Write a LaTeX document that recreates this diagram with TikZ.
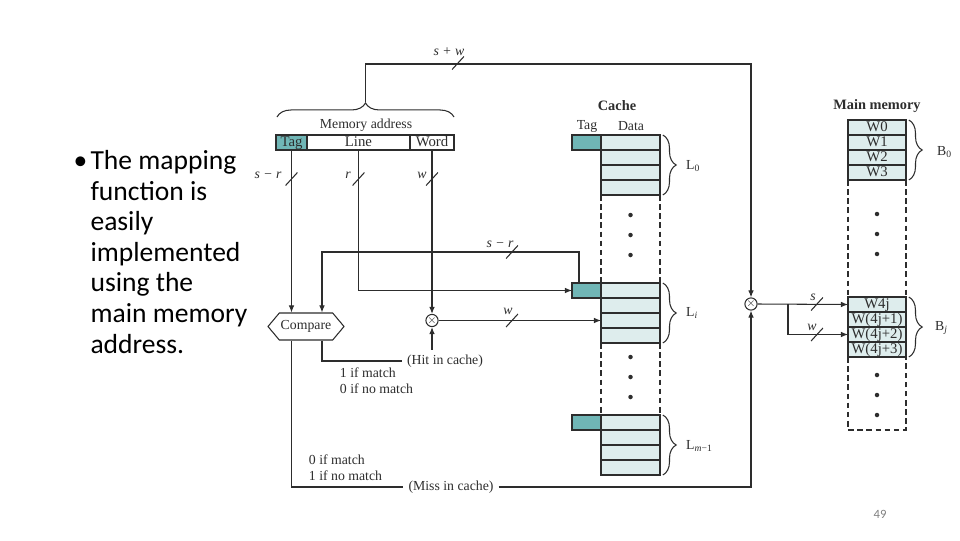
\documentclass[tikz,border=0pt]{standalone}
\usepackage{fontspec}
\setmainfont{Liberation Serif}
\newfontfamily\slidefont{Carlito}
\usetikzlibrary{arrows.meta,shapes.symbols,decorations.pathreplacing}

\definecolor{tagteal}{RGB}{112,182,182}
\definecolor{cellblue}{RGB}{222,237,237}
\definecolor{ink}{RGB}{45,45,45}

\tikzset{slash/.pic={\draw (-4.2pt,-4.6pt) -- (4.2pt,4.6pt);}}

\begin{document}
\begin{tikzpicture}[x=0.025cm, y=-0.025cm, color=ink, line width=0.75pt,
  >={Latex[length=5pt,width=4pt]},
  every node/.style={font=\fontsize{9.8}{11.4}\selectfont},
  cell/.style={draw, fill=cellblue, minimum width=1.475cm, minimum height=0.375cm, inner sep=0pt, outer sep=0pt,
    text height=7pt, text depth=2pt, font=\fontsize{10.5}{12}\selectfont},
  tagcell/.style={cell, fill=tagteal, minimum width=0.725cm},
  mcell/.style={cell, minimum width=1.45cm},
  lbl/.style={font=\itshape\fontsize{9.8}{11}\selectfont},
  brc/.style={decorate, decoration={brace, amplitude=#1}},
  brc/.default=9.5pt,
  mult/.style={draw, circle, fill=white, minimum size=0.3cm, inner sep=0pt, font=\fontsize{8}{8}\selectfont},
  dashline/.style={dash pattern=on 4pt off 2.5pt}]
\useasboundingbox (0,0) rectangle (960,540);

% slide text
\node[anchor=base west, align=left, inner sep=0pt, font=\slidefont\fontsize{19.6}{21.75}\selectfont, text=black] (bullet) at (73,353)
  {\makebox[0.425cm][l]{\textbullet}The mapping\\ \hspace*{0.425cm}function is\\ \hspace*{0.425cm}easily\\
   \hspace*{0.425cm}implemented\\ \hspace*{0.425cm}using the\\ \hspace*{0.425cm}main memory\\ \hspace*{0.425cm}address.};
\node[font=\slidefont\fontsize{9}{10}\selectfont, text=gray] (pnum) at (880,514) {49};

% memory address fields
\node[tagcell, minimum width=0.775cm, font=\fontsize{10.5}{12}\selectfont] (atag) at (291.5,142.5) {Tag};
\node[cell, fill=white, minimum width=2.575cm] (aline) at (358.5,142.5) {Line};
\node[cell, fill=white, minimum width=1.1cm] (aword) at (432,142.5) {Word};
\node (maddr) at (366,125) {Memory address};
\draw[brc=10pt] (277,117) -- (454,117);
\coordinate (btip) at (365.5,102);
\coordinate (bend) at (365.5,64);

% cache
\node[font=\bfseries\fontsize{10.2}{12}\selectfont] (chead) at (617,106) {Cache};
\node (ctag) at (587,126) {Tag};
\node (cdata) at (631,126) {Data};
\foreach \k/\y in {a/135,b/283,c/415}{
  \node[tagcell] (t\k) at (586.5,{\y+7.5}) {};
  \foreach \r in {0,...,3}
    \node[cell] (c\k\r) at (630.5,{\y+7.5+15*\r}) {};
}
\draw[line width=1.4pt] (cc1.south west) -- (cc1.south east);
\draw[dashline] (ca3.south west) -- (cb0.north west) (ca3.south east) -- (cb0.north east);
\draw[dashline] (cb3.south west) -- (cc0.north west) (cb3.south east) -- (cc0.north east);
\foreach \y in {215,235,255,357,377,397} \fill (630.5,\y) circle (1.6pt);
\draw[brc] ([xshift=2pt]ca0.north east) -- ([xshift=2pt]ca3.south east);
\draw[brc] ([xshift=2pt]cb0.north east) -- ([xshift=2pt]cb3.south east);
\draw[brc] ([xshift=2pt]cc0.north east) -- ([xshift=2pt]cc3.south east);
\node[anchor=west] (l0) at (681,166) {L\textsubscript{0}};
\node[anchor=west] (li) at (681,313) {L\textsubscript{\textit{i}}};
\node[anchor=west] (lm) at (681,446) {L\textsubscript{\textit{m}−1}};

% main memory
\node[font=\bfseries\fontsize{10.2}{12}\selectfont] (mhead) at (877,106) {Main memory};
\foreach \w [count=\r from 0] in {W0,W1,W2,W3}
  \node[mcell] (m\r) at (877,{127.5+15*\r}) {\w};
\foreach \w [count=\r from 4] in {W4j,{W(4j+1)},{W(4j+2)},{W(4j+3)}}
  \node[mcell] (m\r) at (877,{304.5+15*(\r-4)}) {\w};
\coordinate (mend) at (877,430);
\draw[dashline] (m3.south west) -- (m4.north west) (m3.south east) -- (m4.north east);
\draw[dashline] (m7.south west) |- (mend) -| (m7.south east);
\foreach \y in {214,234,254,375,395,415} \fill (877,\y) circle (1.6pt);
\draw[brc] ([xshift=2pt]m0.north east) -- ([xshift=2pt]m3.south east);
\draw[brc] ([xshift=2pt]m4.north east) -- ([xshift=2pt]m7.south east);
\node[anchor=west] (b0) at (932,152) {B\textsubscript{0}};
\node[anchor=west] (bj) at (930,328) {B\textsubscript{\textit{j}}};

% compare and select
\node[draw, fill=white, signal, signal to=west and east, signal pointer angle=100,
  minimum width=1.9cm, minimum height=0.675cm, inner sep=1pt] (cmp) at (306,326.5) {Compare};
\node[mult] (mx1) at (432,320.5) {$\times$};
\node[mult] (mx2) at (751,304) {$\times$};
\node (hit) at (445,361) {(Hit in cache)};
\node[align=left] (hitnote) at (376.5,381) {1 if match\\0 if no match};
\node (miss) at (451,487) {(Miss in cache)};
\node[align=left] (missnote) at (345.5,467.5) {0 if match\\1 if no match};
\coordinate (srup) at (579,252);
\coordinate (srdn) at (322,252);
\coordinate (split) at (788,304);

% wires
\draw[->] (btip) -- (bend) -| (mx2.north);
\draw[->] (atag.south) -- (atag.south |- cmp.north);
\draw[->] (aline.south) |- (tb.west);
\draw[->] (aword.south) -- (mx1.north);
\draw[->] (tb.north -| srup) -- (srup) -- (srdn) -- (srdn |- cmp.north);
\draw[->] (mx1.east) -- (mx1.east -| cb2.west);
\draw (cmp.south -| srdn) |- (hit.west);
\draw[->] (hit.north -| mx1) -- (mx1.south);
\draw (cmp.south -| atag.south) |- (miss.west);
\draw[->] (miss.east) -| (mx2.south);
\draw[->] (mx2.east) -- (m4.west);
\draw[->] (split) |- (m6.west);

% field widths
\pic at (458,63) {slash};
\node[lbl] (lsw) at (449,52) {s + w};
\pic at (291.5,179) {slash};
\node[lbl] (lsr) at (268,175) {s − r};
\pic at (358.5,179) {slash};
\node[lbl] (lr) at (348,175) {r};
\pic at (432,179) {slash};
\node[lbl] (lw) at (422,175) {w};
\pic at (512,252) {slash};
\node[lbl] (lsr2) at (500,244) {s − r};
\pic at (512,320.5) {slash};
\node[lbl] (lw2) at (508,311) {w};
\pic at (817,304) {slash};
\node[lbl] (ls3) at (813,297) {s};
\pic at (817,334.5) {slash};
\node[lbl] (lw3) at (812,327) {w};
\end{tikzpicture}
\end{document}
